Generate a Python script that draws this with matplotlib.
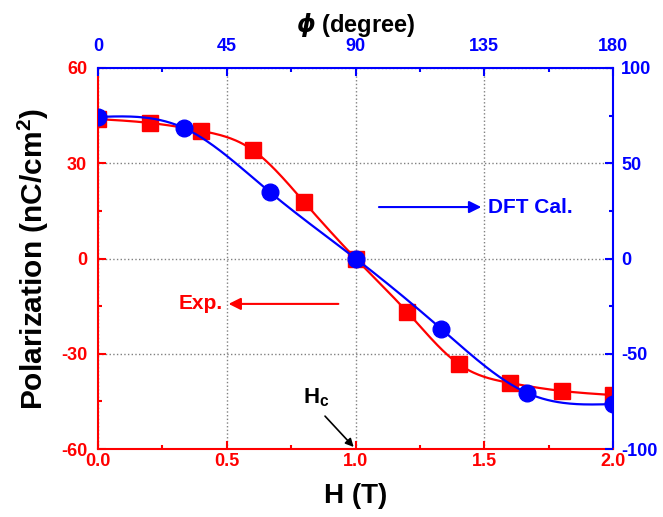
import numpy as np
import matplotlib
matplotlib.use("Agg")
import matplotlib.pyplot as plt

plt.rcParams['font.family'] = ['Liberation Sans', 'DejaVu Sans']
plt.rcParams['font.weight'] = 'bold'
plt.rcParams['axes.unicode_minus'] = False
plt.rcParams['mathtext.fontset'] = 'custom'
plt.rcParams['mathtext.rm'] = 'Liberation Sans:bold'
plt.rcParams['mathtext.bf'] = 'Liberation Sans:bold'
plt.rcParams['mathtext.it'] = 'DejaVu Sans:italic'

# experimental polarization vs field
field_T = [0.0, 0.2, 0.4, 0.6, 0.8, 1.0, 1.2, 1.4, 1.6, 1.8, 2.0]
pol_exp = [43.9, 42.7, 40.2, 34.2, 17.8, 0.0, -16.8, -33.2, -39.2, -41.7, -43.0]

# DFT polarization vs angle
phi_deg = [0, 30, 60, 90, 120, 150, 180]
pol_dft = [74.3, 68.5, 34.9, 0.0, -37.0, -70.6, -76.4]

RED = '#ff0000'
BLUE = '#0000ff'


def smooth(x, y, n=300):
    # natural cubic spline through the points, for the drawn curve only
    x = np.asarray(x, float)
    y = np.asarray(y, float)
    h = np.diff(x)
    m = len(x)
    A = np.zeros((m, m))
    b = np.zeros(m)
    A[0, 0] = A[-1, -1] = 1
    for i in range(1, m - 1):
        A[i, i - 1] = h[i - 1]
        A[i, i] = 2 * (h[i - 1] + h[i])
        A[i, i + 1] = h[i]
        b[i] = 6 * ((y[i + 1] - y[i]) / h[i] - (y[i] - y[i - 1]) / h[i - 1])
    M = np.linalg.solve(A, b)
    xs = np.linspace(x[0], x[-1], n)
    k = np.clip(np.searchsorted(x, xs) - 1, 0, m - 2)
    t0 = x[k + 1] - xs
    t1 = xs - x[k]
    hk = h[k]
    ys = (M[k] * t0**3 + M[k + 1] * t1**3) / (6 * hk) \
        + (y[k] / hk - M[k] * hk / 6) * t0 + (y[k + 1] / hk - M[k + 1] * hk / 6) * t1
    return xs, ys


fig = plt.figure(figsize=(6.63, 5.17), dpi=100)
pos = [0.148, 0.1315, 0.7766, 0.737]
ax = fig.add_axes(pos)

xs, ys = smooth(field_T, pol_exp)
ax.plot(xs, ys, color=RED, lw=1.6)
ax.plot(field_T, pol_exp, 's', color=RED, ms=11, mec=RED)
ax.set_xlim(0, 2)
ax.set_ylim(-60, 60)
ax.set_xticks([0, 0.5, 1.0, 1.5, 2.0])
ax.set_xticklabels(['0.0', '0.5', '1.0', '1.5', '2.0'])
ax.set_xticks([0.25, 0.75, 1.25, 1.75], minor=True)
ax.set_yticks([-60, -30, 0, 30, 60])
ax.set_yticks([-45, -15, 15, 45], minor=True)
ax.grid(True, which='major', color='gray', ls=':', lw=1)
ax.tick_params(which='both', direction='in', colors=RED, labelsize=13, width=1.5)
ax.tick_params(which='major', length=6)
ax.tick_params(which='minor', length=3)
ax.tick_params(axis='y', pad=8)
ax.tick_params(axis='x', pad=3)
for lbl in ax.get_xticklabels() + ax.get_yticklabels():
    lbl.set_fontweight('bold')
ax.spines['left'].set_color(RED)
ax.spines['bottom'].set_color(RED)
ax.spines['top'].set_color(BLUE)
ax.spines['right'].set_color(BLUE)
for s in ax.spines.values():
    s.set_linewidth(1.5)
ax.set_xlabel('H (T)', fontsize=20, fontweight='bold', labelpad=9)
ax.set_ylabel(r'Polarization (nC/cm$^{\mathbf{2}}$)', fontsize=21.5, fontweight='bold', labelpad=7)

# second axes: angle (top) and DFT polarization (right)
axb = fig.add_axes(pos, frameon=False)
xs2, ys2 = smooth(phi_deg, pol_dft)
axb.plot(xs2, ys2, color=BLUE, lw=1.6)
axb.plot(phi_deg, pol_dft, 'o', color=BLUE, ms=12, mec=BLUE)
axb.set_xlim(0, 180)
axb.set_ylim(-100, 100)
axb.xaxis.tick_top()
axb.xaxis.set_label_position('top')
axb.yaxis.tick_right()
axb.set_xticks([0, 45, 90, 135, 180])
axb.set_xticks([22.5, 67.5, 112.5, 157.5], minor=True)
axb.set_yticks([-100, -50, 0, 50, 100])
axb.set_yticks([-75, -25, 25, 75], minor=True)
axb.tick_params(which='both', direction='in', colors=BLUE, labelsize=13, width=1.5)
axb.tick_params(which='major', length=6)
axb.tick_params(which='minor', length=3)
axb.tick_params(axis='x', pad=9)
axb.tick_params(axis='y', pad=6)
for lbl in axb.get_xticklabels() + axb.get_yticklabels():
    lbl.set_fontweight('bold')
axb.set_xlabel(r'$\mathit{\phi}$ (degree)', fontsize=17, fontweight='bold', labelpad=5)

# annotations
ax.annotate('', xy=(1.499, 16.2), xytext=(1.080, 16.2),
            arrowprops=dict(arrowstyle='-|>', color=BLUE, lw=1.5, mutation_scale=18))
ax.text(1.515, 16.2, 'DFT Cal.', color=BLUE, fontsize=15, fontweight='bold', va='center', ha='left')
ax.annotate('', xy=(0.496, -14.3), xytext=(0.944, -14.3),
            arrowprops=dict(arrowstyle='-|>', color=RED, lw=1.5, mutation_scale=18))
ax.text(0.485, -14.3, 'Exp.', color=RED, fontsize=15, fontweight='bold', va='center', ha='right')
ax.annotate('', xy=(1.0, -60), xytext=(0.874, -49.0),
            arrowprops=dict(arrowstyle='-|>', color='black', lw=1.2, mutation_scale=12))
ax.text(0.847, -47.3, r'H$_{\mathrm{c}}$', color='black', fontsize=16, fontweight='bold', va='bottom', ha='center')

fig.savefig('out.png', dpi=100)
